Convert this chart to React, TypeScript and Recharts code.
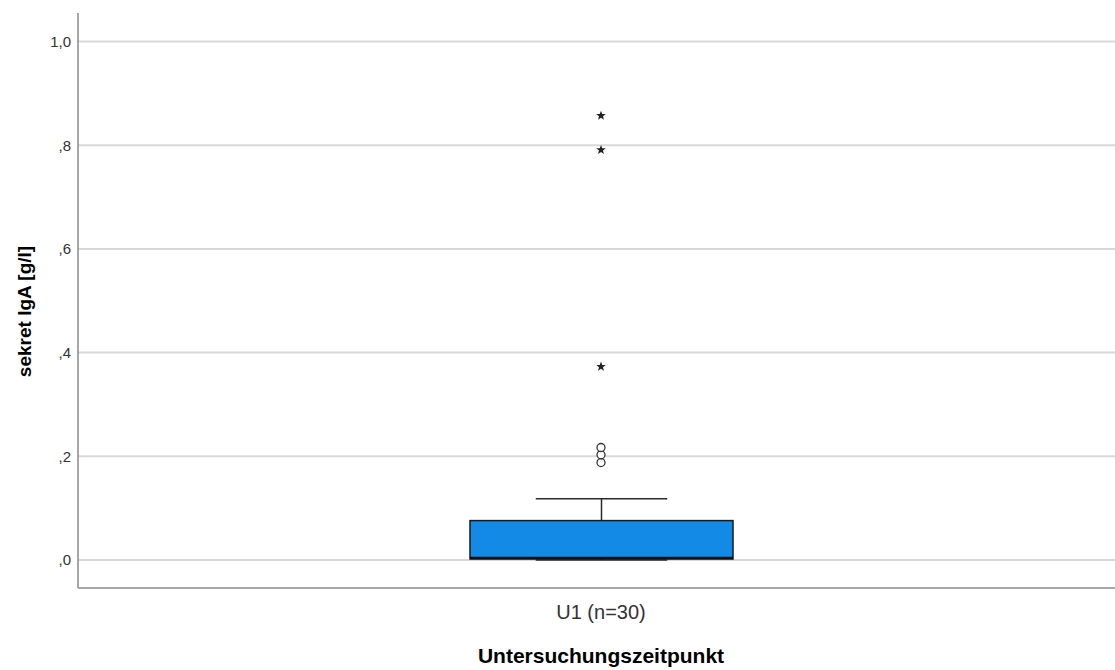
import { ComposedChart, Bar, Scatter, XAxis, YAxis, CartesianGrid } from "recharts";

const FONT = '"Liberation Sans", Arial, Helvetica, sans-serif';

// box plot summary per time point
const groups = ["U1 (n=30)"];
const lowerWhisker = [0.0];
const quartile1 = [0.002];
const medians = [0.004];
const quartile3 = [0.076];
const upperWhisker = [0.118];

// outliers: "o" = circle, "e" = extreme (star)
const outlierValues = [0.188, 0.203, 0.217, 0.373, 0.791, 0.857];
const outlierKinds = ["o", "o", "o", "e", "e", "e"];

const yTicks = [0, 0.2, 0.4, 0.6, 0.8, 1.0];
const yDomain = [-0.054, 1.055];

const boxData = groups.map((group, i) => ({
  group,
  min: lowerWhisker[i],
  q1: quartile1[i],
  median: medians[i],
  q3: quartile3[i],
  max: upperWhisker[i],
  range: [lowerWhisker[i], upperWhisker[i]],
}));

const outlierData = outlierValues.map((value, i) => ({
  group: groups[0],
  value,
  kind: outlierKinds[i],
}));

const formatTick = (v: number) => {
  const s = v.toFixed(1).replace(".", ",");
  return s.startsWith("0") ? s.slice(1) : s;
};

// the bar spans min..max, so its geometry gives the pixel scale for the box parts
const BoxShape = (props: any) => {
  const { x, y, width, height, payload } = props;
  const span = payload.max - payload.min;
  const py = (v: number) => y + ((payload.max - v) / span) * height;
  const cx = x + width / 2;
  const cap = width / 4;
  const line = "#2b2b2b";
  return (
    <g>
      <line x1={cx} x2={cx} y1={py(payload.q3)} y2={py(payload.max)} stroke={line} strokeWidth={1.5} />
      <line x1={cx - cap} x2={cx + cap} y1={py(payload.max)} y2={py(payload.max)} stroke={line} strokeWidth={1.5} />
      <line x1={cx} x2={cx} y1={py(payload.q1)} y2={py(payload.min)} stroke={line} strokeWidth={1.5} />
      <line x1={cx - cap} x2={cx + cap} y1={py(payload.min)} y2={py(payload.min)} stroke={line} strokeWidth={1.5} />
      <rect
        x={x}
        y={py(payload.q3)}
        width={width}
        height={py(payload.q1) - py(payload.q3)}
        fill="#128ae6"
        stroke="#1a1a1a"
        strokeWidth={1.5}
      />
      <line x1={x} x2={x + width} y1={py(payload.median)} y2={py(payload.median)} stroke="#111" strokeWidth={2.5} />
    </g>
  );
};

const OutlierShape = (props: any) => {
  const { cx, cy, payload } = props;
  if (payload.kind === "o") {
    return <circle cx={cx} cy={cy} r={4} fill="#fff" stroke="#333" strokeWidth={1.3} />;
  }
  const pts: string[] = [];
  for (let k = 0; k < 10; k++) {
    const r = k % 2 === 0 ? 5 : 2.1;
    const a = -Math.PI / 2 + (k * Math.PI) / 5;
    pts.push(`${cx + r * Math.cos(a)},${cy + r * Math.sin(a)}`);
  }
  return <polygon points={pts.join(" ")} fill="#222" />;
};

const YTitle = (props: any) => {
  const vb = props.viewBox;
  const x = vb.x + 24;
  const y = vb.y + vb.height / 2 + 11;
  return (
    <text
      x={x}
      y={y}
      transform={`rotate(-90, ${x}, ${y})`}
      textAnchor="middle"
      dominantBaseline="central"
      fontFamily={FONT}
      fontSize={19}
      fontWeight="bold"
      fill="#000"
    >
      sekret IgA [g/l]
    </text>
  );
};

// gridlines only at the value ticks, not along the plot border
const gridRows = ({ offset }: any) =>
  yTicks.map((t) => offset.top + ((yDomain[1] - t) / (yDomain[1] - yDomain[0])) * offset.height);

export default function App() {
  return (
    <div style={{ position: "absolute", left: 0, top: 0, width: 1115, height: 670, overflow: "hidden", background: "#fff" }}>
      <ComposedChart
        width={1124}
        height={670}
        data={boxData}
        margin={{ top: 13, right: 0, bottom: 0, left: 0 }}
      >
        <CartesianGrid vertical={false} stroke="#d8d8d8" strokeWidth={2} horizontalCoordinatesGenerator={gridRows} />
        <XAxis
          dataKey="group"
          type="category"
          allowDuplicatedCategory={false}
          height={82}
          tickLine={false}
          tickSize={6}
          tickMargin={11}
          axisLine={{ stroke: "#8a8a8a", strokeWidth: 1.5 }}
          tick={{ fontSize: 20, fill: "#333", fontFamily: FONT }}
          label={{
            value: "Untersuchungszeitpunkt",
            position: "insideBottom",
            offset: 7,
            fontSize: 21,
            fontWeight: "bold",
            fill: "#000",
            fontFamily: FONT,
            style: { fontSize: 21, fontWeight: "bold", fill: "#000", fontFamily: FONT },
          }}
        />
        <YAxis
          type="number"
          domain={yDomain}
          ticks={yTicks}
          tickFormatter={formatTick}
          width={78}
          tickLine={false}
          tickSize={6}
          tickMargin={1}
          axisLine={{ stroke: "#8a8a8a", strokeWidth: 1.5 }}
          tick={{ fontSize: 15, fill: "#333", fontFamily: FONT }}
          label={{ content: YTitle }}
        />
        <Bar dataKey="range" barSize={263} shape={BoxShape} isAnimationActive={false} />
        <Scatter data={outlierData} dataKey="value" shape={OutlierShape} isAnimationActive={false} />
      </ComposedChart>
    </div>
  );
}
